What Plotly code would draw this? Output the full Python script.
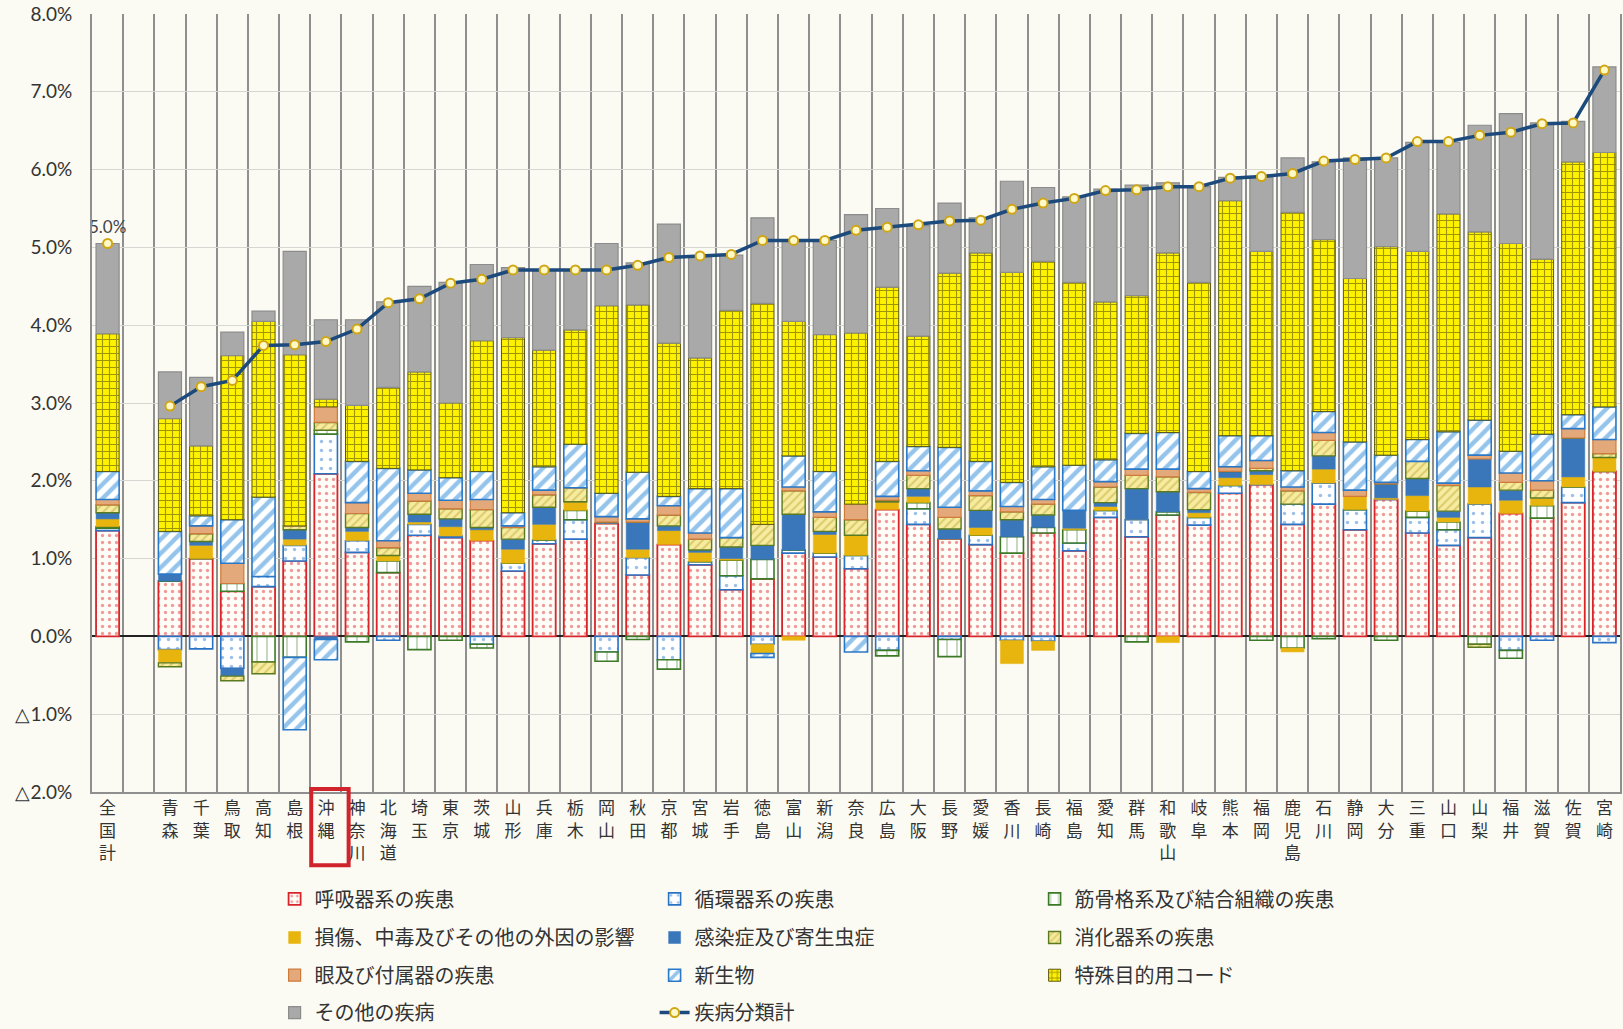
import plotly.graph_objects as go

prefectures = ["全国計", "青森", "千葉", "鳥取", "高知", "島根", "沖縄", "神奈川", "北海道", "埼玉",
               "東京", "茨城", "山形", "兵庫", "栃木", "岡山", "秋田", "京都", "宮城", "岩手",
               "徳島", "富山", "新潟", "奈良", "広島", "大阪", "長野", "愛媛", "香川", "長崎",
               "福島", "愛知", "群馬", "和歌山", "岐阜", "熊本", "福岡", "鹿児島", "石川", "静岡",
               "大分", "三重", "山口", "山梨", "福井", "滋賀", "佐賀", "宮崎"]

respiratory = [1.36, 0.71, 1.00, 0.58, 0.64, 0.97, 2.09, 1.08, 0.82, 1.30,
               1.27, 1.23, 0.84, 1.19, 1.25, 1.45, 0.79, 1.18, 0.92, 0.60,
               0.74, 1.07, 1.02, 0.87, 1.63, 1.44, 1.25, 1.18, 1.07, 1.33,
               1.10, 1.53, 1.28, 1.56, 1.43, 1.84, 1.95, 1.44, 1.70, 1.37,
               1.76, 1.33, 1.17, 1.27, 1.58, 1.52, 1.72, 2.12]
circulatory = [0.03, -0.17, -0.16, -0.41, 0.13, 0.20, 0.51, 0.15, -0.05, 0.14,
               0.02, -0.10, 0.10, 0.05, 0.25, -0.20, 0.22, -0.30, 0.04, 0.18,
               -0.10, 0.04, 0.05, 0.17, -0.18, 0.20, -0.04, 0.12, -0.05, -0.06,
               0.10, 0.09, 0.22, 0.00, 0.10, 0.10, 0.00, 0.26, 0.27, 0.26,
               0.00, 0.20, 0.20, 0.43, -0.18, -0.05, 0.20, -0.08]
musculoskeletal = [0.02, 0.00, 0.00, 0.10, -0.33, -0.27, 0.05, -0.07, 0.15, -0.17,
                   -0.05, -0.05, 0.00, 0.00, 0.12, -0.12, -0.04, -0.12, 0.00, 0.20,
                   0.25, 0.00, 0.00, 0.00, -0.07, 0.08, -0.22, 0.00, 0.21, 0.07,
                   0.17, 0.00, -0.07, 0.04, 0.00, 0.00, -0.05, -0.15, -0.03, 0.00,
                   -0.05, 0.08, 0.10, -0.10, -0.10, 0.16, 0.00, 0.00]
injury = [0.10, -0.17, 0.17, 0.00, 0.00, 0.08, 0.00, 0.12, 0.07, 0.03,
          0.12, 0.14, 0.18, 0.20, 0.11, 0.00, 0.11, 0.18, 0.12, 0.02,
          -0.12, -0.05, 0.24, 0.26, 0.10, 0.08, 0.00, 0.10, -0.30, -0.12,
          0.02, 0.05, 0.00, -0.08, 0.06, 0.10, 0.13, -0.05, 0.18, 0.17,
          0.02, 0.20, 0.06, 0.22, 0.17, 0.10, 0.13, 0.18]
infectious = [0.08, 0.09, 0.05, -0.10, 0.00, 0.12, -0.04, 0.05, 0.00, 0.10,
              0.10, 0.03, 0.13, 0.22, 0.00, 0.02, 0.35, 0.06, 0.03, 0.15,
              0.18, 0.46, 0.04, 0.00, 0.00, 0.10, 0.13, 0.22, 0.22, 0.16,
              0.23, 0.05, 0.40, 0.26, 0.04, 0.08, 0.05, 0.00, 0.17, 0.00,
              0.18, 0.22, 0.08, 0.36, 0.13, 0.00, 0.50, 0.00]
digestive = [0.10, -0.05, 0.10, -0.06, -0.15, 0.05, 0.10, 0.18, 0.10, 0.17,
             0.13, 0.23, 0.15, 0.16, 0.18, 0.00, 0.00, 0.14, 0.14, 0.12,
             0.27, 0.30, 0.18, 0.20, 0.02, 0.17, 0.15, 0.19, 0.10, 0.14,
             0.00, 0.20, 0.17, 0.19, 0.22, 0.00, 0.03, 0.17, 0.20, 0.00,
             0.00, 0.22, 0.33, -0.04, 0.10, 0.10, 0.00, 0.05]
eye = [0.07, 0.00, 0.10, 0.26, 0.00, 0.00, 0.20, 0.14, 0.09, 0.10,
       0.11, 0.13, 0.02, 0.06, 0.00, 0.07, 0.04, 0.12, 0.08, 0.00,
       0.00, 0.05, 0.07, 0.20, 0.05, 0.06, 0.13, 0.06, 0.07, 0.06,
       0.00, 0.07, 0.08, 0.10, 0.05, 0.06, 0.10, 0.05, 0.10, 0.08,
       0.02, 0.00, 0.03, 0.05, 0.12, 0.12, 0.12, 0.18]
neoplasms = [0.36, 0.55, 0.13, 0.56, 1.02, -0.93, -0.26, 0.53, 0.93, 0.30,
             0.29, 0.36, 0.17, 0.30, 0.56, 0.30, 0.60, 0.12, 0.57, 0.63,
             -0.05, 0.40, 0.52, -0.20, 0.45, 0.31, 0.77, 0.38, 0.31, 0.42,
             0.58, 0.28, 0.46, 0.47, 0.22, 0.40, 0.32, 0.21, 0.27, 0.62,
             0.35, 0.28, 0.66, 0.45, 0.28, 0.60, 0.18, 0.42]
special_codes = [1.77, 1.45, 0.90, 2.11, 2.26, 2.20, 0.10, 0.72, 1.04, 1.26,
                 0.96, 1.68, 2.25, 1.50, 1.47, 2.41, 2.15, 1.97, 1.68, 2.29,
                 2.84, 1.73, 1.76, 2.20, 2.24, 1.42, 2.24, 2.68, 2.70, 2.64,
                 2.35, 2.03, 1.77, 2.31, 2.43, 3.02, 2.37, 3.32, 2.21, 2.10,
                 2.68, 2.42, 2.80, 2.42, 2.67, 2.25, 3.25, 3.27]
other = [1.16, 0.60, 0.88, 0.30, 0.13, 1.33, 1.02, 1.10, 1.10, 1.10,
         1.55, 0.98, 0.90, 1.02, 0.77, 0.80, 0.54, 1.53, 1.30, 0.71,
         1.10, 1.05, 1.21, 1.52, 1.01, 1.42, 0.90, 0.45, 1.17, 0.95,
         1.10, 1.45, 1.42, 0.90, 1.23, 0.30, 0.95, 0.70, 1.00, 1.55,
         1.14, 1.40, 0.92, 1.37, 1.67, 1.75, 0.52, 1.10]
total = [5.05, 2.96, 3.21, 3.29, 3.74, 3.75, 3.79, 3.95, 4.29, 4.34,
         4.54, 4.59, 4.71, 4.71, 4.71, 4.71, 4.77, 4.87, 4.89, 4.91,
         5.09, 5.09, 5.09, 5.22, 5.26, 5.29, 5.34, 5.35, 5.49, 5.57,
         5.63, 5.73, 5.74, 5.78, 5.78, 5.89, 5.91, 5.95, 6.11, 6.13,
         6.15, 6.36, 6.36, 6.44, 6.48, 6.59, 6.60, 7.28]

ytick_vals = [-2, -1, 0, 1, 2, 3, 4, 5, 6, 7, 8]
ytick_text = ["△2.0%", "△1.0%", "0.0%", "1.0%", "2.0%", "3.0%", "4.0%", "5.0%", "6.0%", "7.0%", "8.0%"]

BLANK = " "
categories = [prefectures[0], BLANK] + prefectures[1:]


def with_gap(values):
    return [values[0], None] + list(values[1:])


ticktext = ["<br>".join(list(c)) if c != BLANK else "" for c in categories]

series = [
    ("呼吸器系の疾患", respiratory, "legend", dict(color="#fffdf8", line=dict(color="#d8242a", width=1.8),
                                   pattern=dict(shape=".", fgcolor="#e0383a", bgcolor="#fffdf8", size=7, solidity=0.18))),
    ("循環器系の疾患", circulatory, "legend", dict(color="#ffffff", line=dict(color="#2a72c4", width=1.6),
                                   pattern=dict(shape=".", fgcolor="#3a82d0", bgcolor="#ffffff", size=9, solidity=0.12))),
    ("筋骨格系及び結合組織の疾患", musculoskeletal, "legend", dict(color="#ffffff", line=dict(color="#3d7a28", width=1.6),
                                             pattern=dict(shape="|", fgcolor="#3d7a28", bgcolor="#ffffff", size=10, solidity=0.12))),
    ("損傷、中毒及びその他の外因の影響", injury, "legend2", dict(color="#e8b40e", line=dict(color="#e8b40e", width=0.5))),
    ("感染症及び寄生虫症", infectious, "legend2", dict(color="#3a76ba", line=dict(color="#3a76ba", width=0.5))),
    ("消化器系の疾患", digestive, "legend2", dict(color="#f3e690", line=dict(color="#5a7a22", width=1.4),
                                pattern=dict(shape="/", fgcolor="#c4a83a", bgcolor="#f6eca0", size=6, solidity=0.35))),
    ("眼及び付属器の疾患", eye, "legend3", dict(color="#e3a97a", line=dict(color="#cf7a3a", width=1.2))),
    ("新生物", neoplasms, "legend3", dict(color="#ffffff", line=dict(color="#2a78c8", width=1.6),
                            pattern=dict(shape="/", fgcolor="#2a8ad8", bgcolor="#ffffff", size=10, solidity=0.45))),
    ("特殊目的用コード", special_codes, "legend3", dict(color="#fff200", line=dict(color="#5a5812", width=1.0),
                                   pattern=dict(shape="+", fgcolor="#3e3a10", bgcolor="#fff200", size=7, solidity=0.3))),
    ("その他の疾病", other, "legend4", dict(color="#a9a9a9", line=dict(color="#8c8c8c", width=1.2))),
]

fig = go.Figure()
for name, vals, leg, marker in series:
    fig.add_trace(go.Bar(x=categories, y=with_gap(vals), name=name, marker=marker, legend=leg))

label_text = ["5.0%"] + [""] * (len(categories) - 1)
fig.add_trace(go.Scatter(
    x=categories, y=with_gap(total), name="疾病分類計", mode="lines+markers+text", legend="legend4",
    line=dict(color="#1c4a7c", width=3.5),
    marker=dict(size=9, color="#fff9c8", line=dict(color="#d1a614", width=2)),
    text=label_text, textposition="top center", cliponaxis=False,
    textfont=dict(family="Lato, Noto Sans, sans-serif", size=17, color="#444444"),
    connectgaps=False,
))

# highlight box around 沖縄 label
idx = categories.index("沖縄")
fig.add_shape(type="rect", xref="x", yref="paper", x0=idx - 0.47, x1=idx + 0.73, y0=0.004, y1=-0.094,
              line=dict(color="#d0232b", width=4), fillcolor="rgba(0,0,0,0)")

legend_common = dict(orientation="h", x=0.1195, xanchor="left", yanchor="middle",
                     entrywidth=335, entrywidthmode="pixels",
                     font=dict(family="Noto Sans CJK JP, sans-serif", size=20, color="#333333"),
                     bgcolor="rgba(0,0,0,0)", traceorder="normal")

fig.update_layout(
    width=1623, height=1029,
    barmode="relative", bargap=0.26,
    paper_bgcolor="#fbfbf4", plot_bgcolor="#fbfbf4",
    margin=dict(l=92, r=3, t=14, b=237, autoexpand=False),
    font=dict(family="Noto Sans CJK JP, Noto Sans, sans-serif", color="#333333"),
    legend=dict(y=-0.1374, **legend_common),
    legend2=dict(y=-0.1870, **legend_common),
    legend3=dict(y=-0.2355, **legend_common),
    legend4=dict(y=-0.2835, **legend_common),
    showlegend=True,
)
fig.update_xaxes(
    type="category", tickmode="array", tickvals=categories, ticktext=ticktext,
    range=[-0.5, len(categories) - 0.5],
    tickson="boundaries", showgrid=True, gridcolor="#8f8f8f", gridwidth=2,
    ticks="", tickangle=0,
    tickfont=dict(family="Noto Sans CJK JP, sans-serif", size=17, color="#333333"),
    showline=True, linecolor="#8f8f8f", linewidth=2, mirror=False,
    zeroline=False, fixedrange=True,
)
fig.update_yaxes(
    range=[-2, 8], tickmode="array", tickvals=ytick_vals, ticktext=ytick_text,
    showgrid=True, gridcolor="#d6d6d2", gridwidth=1,
    zeroline=True, zerolinecolor="#222222", zerolinewidth=1.5,
    tickfont=dict(family="Lato, Open Sans, sans-serif", size=19, color="#333333"),
    ticks="", ticklabelstandoff=14,
    showline=True, linecolor="#8f8f8f", linewidth=2, mirror=True,
)

fig.write_html("out.html", config={"displayModeBar": False},
               post_script="document.body.style.margin='0';document.body.style.padding='0';")
